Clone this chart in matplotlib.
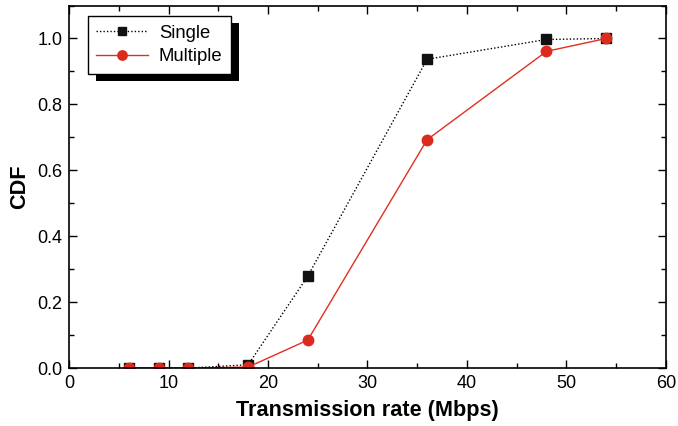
import matplotlib
matplotlib.use("Agg")
import matplotlib.pyplot as plt
from matplotlib.ticker import MultipleLocator
from matplotlib.patches import Rectangle
from matplotlib.transforms import IdentityTransform

plt.rcParams['font.family'] = ['Liberation Sans', 'DejaVu Sans']

rates = [6, 9, 12, 18, 24, 36, 48, 54]
single = [0.0, 0.0, 0.0, 0.01, 0.279, 0.937, 0.997, 1.0]
multiple = [0.0, 0.0, 0.0, 0.003, 0.085, 0.693, 0.961, 1.0]
xlabel = "Transmission rate (Mbps)"
ylabel = "CDF"

fig = plt.figure(figsize=(6.78, 4.26), dpi=100)
ax = fig.add_axes([0.102, 0.136, 0.880, 0.851])

ax.plot(rates, single, color='black', linestyle=(0, (1, 1.5)), linewidth=1.0,
        marker='s', markersize=6.5, markerfacecolor='#111111', markeredgecolor='#111111',
        label='Single')
ax.plot(rates, multiple, color='#e03020', linestyle='-', linewidth=1.0,
        marker='o', markersize=7.5, markerfacecolor='#dd2a1e', markeredgecolor='#dd2a1e',
        label='Multiple')

ax.set_xlim(0, 60)
ax.set_ylim(0, 1.1)
ax.xaxis.set_major_locator(MultipleLocator(10))
ax.xaxis.set_minor_locator(MultipleLocator(5))
ax.yaxis.set_minor_locator(MultipleLocator(0.1))
ax.set_yticks([0.0, 0.2, 0.4, 0.6, 0.8, 1.0])
ax.set_yticklabels(['0.0', '0.2', '0.4', '0.6', '0.8', '1.0'])
ax.tick_params(which='both', direction='in', top=True, right=True, labelsize=13, width=1.0)
ax.tick_params(which='major', length=6, pad=5)
ax.tick_params(which='minor', length=3.5)
for s in ax.spines.values():
    s.set_linewidth(1.2)

ax.set_xlabel(xlabel, fontsize=15.6, fontweight='bold', labelpad=6)
ax.set_ylabel(ylabel, fontsize=15.6, fontweight='bold', labelpad=5)

leg = ax.legend(loc='upper left', bbox_to_anchor=(0.025, 0.98), fontsize=13.3,
                frameon=True, shadow=False, fancybox=False,
                edgecolor='black', handlelength=2.8, borderpad=0.45, labelspacing=0.35,
                handletextpad=0.6, borderaxespad=0.2, markerscale=0.9)
leg.get_frame().set_linewidth(1.0)
leg.get_frame().set_alpha(1.0)

fig.canvas.draw()
bb = leg.get_frame().get_window_extent(fig.canvas.get_renderer())
shadow = Rectangle((bb.x0 + 8, bb.y0 - 7), bb.width, bb.height, transform=IdentityTransform(),
                   facecolor='black', edgecolor='none', zorder=4.9, clip_on=False)
ax.add_patch(shadow)

fig.savefig("out.png", dpi=100)
